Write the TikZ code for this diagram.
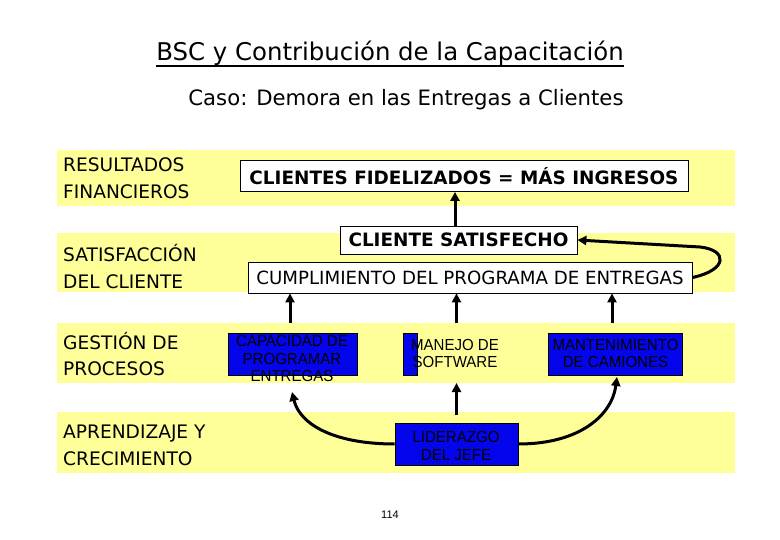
\documentclass[tikz,border=0pt]{standalone}
\usepackage{fontspec}
\setmainfont{DejaVu Sans}
\newfontfamily\narrowfont[FakeStretch=0.94]{Liberation Sans}
\newfontfamily\arialfont{Liberation Sans}
\usetikzlibrary{arrows.meta}
\definecolor{bandyellow}{RGB}{255,255,153}
\definecolor{boxblue}{RGB}{5,5,235}
\tikzset{
  band/.style={fill=bandyellow, draw=none, inner sep=0pt, minimum width=678pt},
  lab/.style={anchor=west, align=left, inner sep=0pt, font=\fontsize{18.6}{26.5}\selectfont},
  whitebox/.style={draw=black, line width=0.8pt, fill=white, inner sep=0pt},
  bluebox/.style={draw=black, line width=0.8pt, fill=boxblue, inner sep=0pt},
  bluetext/.style={align=center, inner sep=0pt, font=\narrowfont\fontsize{16}{17.5}\selectfont},
  arr/.style={line width=3pt, -{Triangle[length=9pt,width=9pt]}},
}
\begin{document}
\begin{tikzpicture}[x=1pt,y=-1pt]
\useasboundingbox (0,0) rectangle (780,540);

% title
\node[inner sep=0pt, font=\fontsize{24.4}{28}\selectfont] (title) at (390,53) {BSC y Contribución de la Capacitación};
\draw[line width=1.2pt] (title.south west |- 0,66) coordinate (ul1) -- (title.south east |- 0,66) coordinate (ul2);
\node[inner sep=0pt, font=\fontsize{21.2}{25}\selectfont] (sub) at (406,100) {Caso: Demora en las Entregas a Clientes};

% bands
\node[band, minimum height=56pt] (b1) at (396,178) {};
\node[band, minimum height=59pt] (b2) at (396,262.5) {};
\node[band, minimum height=60pt] (b3) at (396,353) {};
\node[band, minimum height=61pt] (b4) at (396,442.5) {};

% left labels
\node[lab] (l1) at (63,178) {RESULTADOS\\FINANCIEROS};
\node[lab] (l2) at (63,266.5) {SATISFACCIÓN\\DEL CLIENTE};
\node[lab] (l3) at (63,354) {GESTIÓN DE\\PROCESOS};
\node[lab] (l4) at (63,445.5) {APRENDIZAJE Y\\CRECIMIENTO};

% white boxes
\node[whitebox, minimum width=448pt, minimum height=31pt, font=\bfseries\fontsize{18.4}{20}\selectfont] (fid) at (464,176) {CLIENTES FIDELIZADOS = MÁS INGRESOS};
\node[whitebox, minimum width=237pt, minimum height=28pt, font=\bfseries\fontsize{18.4}{20}\selectfont] (sat) at (458.5,240) {CLIENTE SATISFECHO};
\node[whitebox, minimum width=444pt, minimum height=31pt, font=\fontsize{18.2}{20}\selectfont] (cump) at (470,277.5) {CUMPLIMIENTO DEL PROGRAMA DE ENTREGAS};

% blue boxes
\node[bluebox, minimum width=129pt, minimum height=42pt] (capbox) at (292.5,354) {};
\node[bluetext] (cap) at (292,358.5) {CAPACIDAD DE\\PROGRAMAR\\ENTREGAS};
\node[bluebox, minimum width=14pt, minimum height=42pt] (manbox) at (410,354) {};
\node[bluetext] (man) at (455,353.5) {MANEJO DE\\SOFTWARE};
\node[bluebox, minimum width=134pt, minimum height=42pt] (mant) at (615,354) {};
\node[bluetext] (manttext) at (615.5,353.5) {MANTENIMIENTO\\DE CAMIONES};
\node[bluebox, minimum width=123pt, minimum height=42pt] (lid) at (456.5,444) {};
\node[bluetext] (lidtext) at (456,446) {LIDERAZGO\\DEL JEFE};

% page number
\node[inner sep=0pt, font=\arialfont\fontsize{11}{13}\selectfont] (pg) at (390,515) {114};

% arrows
\draw[arr] (sat.north -| 455,0) -- (fid.south -| 455,0);
\draw[arr] (cump.east) .. controls (728,270) and (728,250) .. (700,247) -- (sat.east);
\draw[arr] (b3.north -| 290,0) -- (cump.south -| 290,0);
\draw[arr] (b3.north -| lid.north) -- (cump.south -| lid.north);
\draw[arr] (b3.north -| 612,0) -- (cump.south -| 612,0);
\draw[arr] (lid.north |- 0,415) -- (lid.north |- 0,383);
\draw[arr] (lid.west) .. controls (335,444) and (300,425) .. (292,392);
\draw[arr] (lid.east) .. controls (580,444) and (612,415) .. (617,377);
\end{tikzpicture}
\end{document}
